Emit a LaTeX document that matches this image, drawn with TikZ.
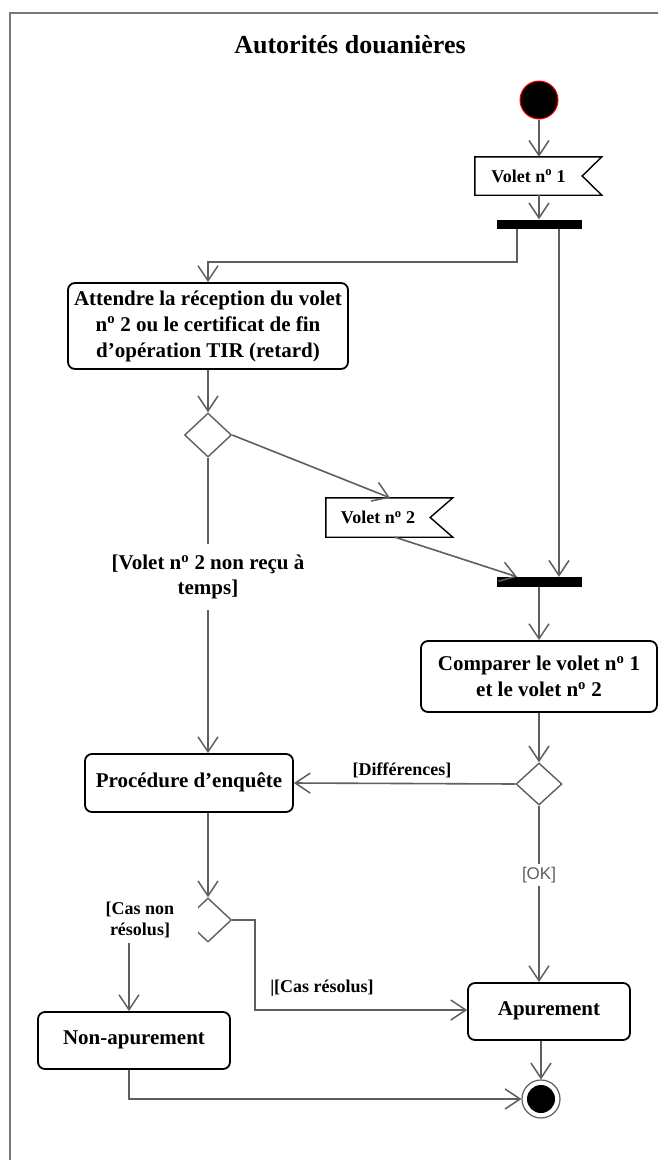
\documentclass[tikz,border=0pt]{standalone}
\usepackage{fontspec}
\setmainfont{Liberation Serif}
\newfontfamily\guardsans{Liberation Sans}
\usetikzlibrary{arrows.meta,shapes.geometric,calc}
\definecolor{flow}{RGB}{95,95,95}
\definecolor{frame}{RGB}{120,120,120}
\newcommand{\nro}{n\textsuperscript{o}}
\begin{document}
\begin{tikzpicture}[x=1pt,y=-1pt,
  every node/.style={inner sep=0pt},
  action/.style={draw=black, line width=1.8pt, rounded corners=7pt, fill=white,
    align=center, font=\fontsize{21}{26}\selectfont\bfseries},
  oneline/.style={action, text depth=6pt},
  signalbox/.style={minimum height=38pt, font=\fontsize{18}{21}\selectfont\bfseries},
  signaledge/.style={draw=black, line width=1.4pt},
  bar/.style={fill=black, draw=none, rectangle},
  choice/.style={diamond, draw=flow, line width=1.4pt, fill=white},
  flowline/.style={draw=flow, line width=1.6pt,
    -{Straight Barb[length=15pt,width=20pt,line width=1.5pt]}},
  plainline/.style={draw=flow, line width=1.6pt},
  guard/.style={fill=white, align=center, font=\fontsize{18}{21}\selectfont\bfseries}]

\useasboundingbox (0,0) rectangle (658,1160);
\fill[white] (0,0) rectangle (658,1160);
% swimlane frame
\draw[frame, line width=2pt] (658,13) -- (10,13) -- (10,1160);
\node (title) at (350,45) {\fontsize{26}{30}\selectfont\bfseries Autorités douanières};

% start and end
\node[circle, fill=black, draw=red, line width=1pt, minimum size=38pt] (init) at (539,100) {};
\node[circle, draw=flow, line width=1.2pt, minimum size=38pt] (final) at (541,1099) {};
\fill[black] (final) circle (14pt);

% signals
\node[signalbox, minimum width=107pt] (v1) at (528.5,176) {Volet \nro\ 1};
\draw[signaledge] (v1.north west) -- ++(127,0) -- (v1.east) -- ($(v1.south west)+(127,0)$) -- (v1.south west) -- cycle;
\node[signalbox, minimum height=39pt, minimum width=104pt] (v2) at (378,517.5) {Volet \nro\ 2};
\draw[signaledge] (v2.north west) -- ++(127,0) -- (v2.east) -- ($(v2.south west)+(127,0)$) -- (v2.south west) -- cycle;

% fork / join bars
\node[bar, minimum width=85pt, minimum height=9pt] (fork) at (539,224) {};
\node[bar, minimum width=85pt, minimum height=10pt] (join) at (539,582) {};

% actions
\node[action, minimum width=280pt, minimum height=86pt] (attend) at (208,326)
  {Attendre la réception du volet\\ \nro\ 2 ou le certificat de fin\\ d’opération TIR (retard)};
\node[action, minimum width=236pt, minimum height=71pt] (comp) at (539,676.5)
  {Comparer le volet \nro\ 1\\ et le volet \nro\ 2};
\node[oneline, minimum width=208pt, minimum height=58pt] (proc) at (189,783)
  {Procédure d’enquête};
\node[oneline, minimum width=162pt, minimum height=57pt] (apur) at (549,1011.5)
  {Apurement};
\node[oneline, minimum width=192pt, minimum height=57pt] (nonap) at (134,1040.5)
  {Non-apurement};

% decisions
\node[choice, minimum width=47pt, minimum height=44pt] (dec1) at (208,435) {};
\node[choice, minimum width=46pt, minimum height=42pt] (dec2) at (539,784) {};
\node[choice, minimum width=47pt, minimum height=44pt] (dec3) at (208,920) {};

% bend points
\coordinate (f1l) at (517,262);
\coordinate (f1r) at (559,262);
\coordinate (c3) at (255,1010);
\coordinate (c4) at (129,920);

% flows
\draw[flowline] (init) -- (init |- v1.north);
\draw[flowline] (init |- v1.south) -- (init |- fork.north);
\draw[flowline] (fork.south -| f1l) -- (f1l) -| (attend.north);
\draw[flowline] (fork.south -| f1r) -- (join.north -| f1r);
\draw[flowline] (attend.south) -- (dec1.north);
\draw[flowline] (dec1.east) -- ([xshift=12pt]v2.north);
\draw[flowline] ([xshift=17pt]v2.south) -- ([xshift=-22pt]join.north);
\draw[flowline] (dec1.south) -- (dec1.south |- proc.north);
\draw[flowline] (join.south) -- (comp.north);
\draw[flowline] (comp.south) -- (dec2.north);
\draw[flowline] (dec2.west) -- (proc.east);
\draw[flowline] (dec2.south) -- (dec2.south |- apur.north);
\draw[flowline] (dec3.north |- proc.south) -- (dec3.north);
\draw[flowline] (dec3.east) -| (c3) -- (c3 -| apur.west);
\draw[plainline] (dec3.west) -- (c4);
\draw[flowline] (c4) -- (c4 |- nonap.north);
\draw[flowline] (c4 |- nonap.south) |- (final.west);
\draw[flowline] (final |- apur.south) -- (final.north);

% guards
\node[guard, font=\fontsize{21}{25}\selectfont\bfseries, inner xsep=4pt, inner ysep=11pt]
  (gnr) at (208,577) {[Volet \nro\ 2 non reçu à\\ temps]};
\node[font=\fontsize{18}{21}\selectfont\bfseries] (gdiff) at (402,770) {[Différences]};
\node[fill=white, text=flow, inner sep=3pt, font=\guardsans\fontsize{17}{20}\selectfont] (gok) at (539,875) {[OK]};
\node[guard, minimum width=116pt, minimum height=46pt] (gcnr) at (140,920) {[Cas non\\ résolus]};
\node[font=\fontsize{18}{21}\selectfont\bfseries] (gcr) at (322,988) {|[Cas résolus]};
\end{tikzpicture}
\end{document}
